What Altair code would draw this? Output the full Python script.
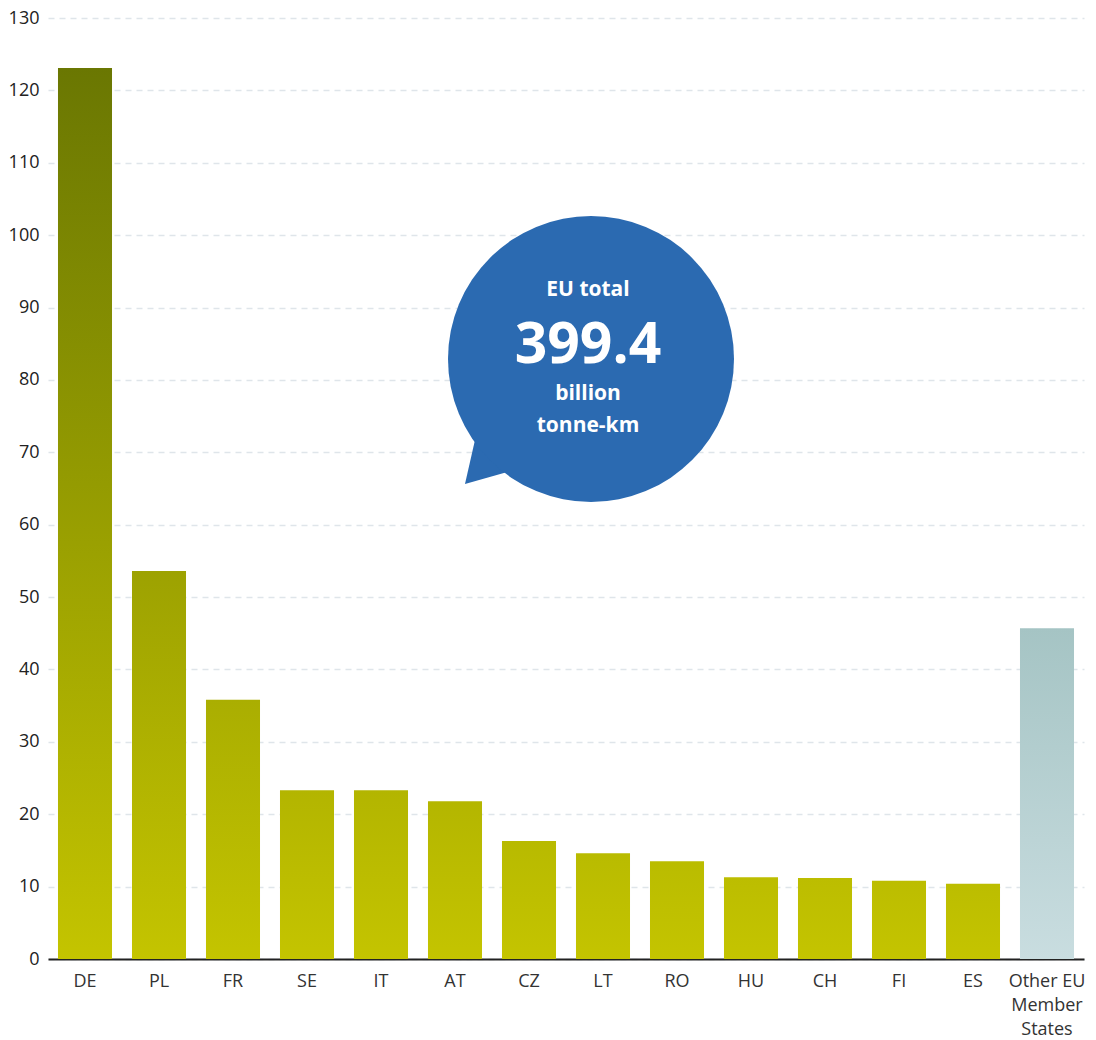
import altair as alt
import pandas as pd

# ---- data ----
countries = ["DE", "PL", "FR", "SE", "IT", "AT", "CZ", "LT", "RO", "HU", "CH", "FI", "ES",
             "Other EU|Member|States"]
values = [123.1, 53.6, 35.8, 23.3, 23.3, 21.8, 16.3, 14.6, 13.5, 11.3, 11.2, 10.8, 10.4, 45.7]
groups = ["country"] * 13 + ["other"]
y_ticks = list(range(0, 131, 10))

bubble_title = "EU total"
bubble_value = "399.4"
bubble_unit = ["billion", "tonne-km"]

df = pd.DataFrame({"country": countries, "value": values, "group": groups})

# ---- styling ----
FONT = "Open Sans"
C_BOTTOM = (196, 196, 0)
C_TOP = (106, 119, 2)
O_TOP = "#a5c4c4"
O_BOTTOM = "#c9dde0"
VMAX = max(values[:13])
BLUE = "#2b6ab1"


def lerp(c0, c1, t):
    return "#%02x%02x%02x" % tuple(round(a + (b - a) * t) for a, b in zip(c0, c1))


x_enc = alt.X(
    "country:N",
    sort=countries,
    scale=alt.Scale(domain=countries, paddingInner=0.27, paddingOuter=0.135),
    axis=alt.Axis(
        title=None, labelAngle=0, labelFont=FONT, labelFontSize=18, labelColor="#333333",
        labelPadding=13, labelLineHeight=24, labelBaseline="top",
        labelExpr="split(datum.label, '|')",
        domainColor="#222222", domainWidth=2, ticks=False, grid=False,
    ),
)
y_enc = alt.Y(
    "value:Q",
    scale=alt.Scale(domain=[0, 130], nice=False),
    axis=alt.Axis(
        title=None, values=y_ticks, labelFont=FONT, labelFontSize=18, labelColor="#222222",
        labelPadding=9, ticks=False, domain=False, minExtent=40, maxExtent=40,
        grid=True, gridColor="#dfe5ea", gridDash=[6, 5], gridWidth=1.3,
    ),
)

layers = []
for c, v, g in zip(countries, values, groups):
    if g == "other":
        top, bottom = O_TOP, O_BOTTOM
    else:
        top, bottom = lerp(C_BOTTOM, C_TOP, v / VMAX), lerp(C_BOTTOM, C_BOTTOM, 0)
    grad = {
        "gradient": "linear", "x1": 0, "y1": 0, "x2": 0, "y2": 1,
        "stops": [{"offset": 0, "color": top}, {"offset": 1, "color": bottom}],
    }
    layers.append(
        alt.Chart(df).transform_filter(alt.datum.country == c)
        .mark_bar(color=grad)
        .encode(x=x_enc, y=y_enc)
    )

one = pd.DataFrame({"k": [0]})
bubble = alt.Chart(one).mark_point(
    shape="circle", filled=True, size=286 * 286, color=BLUE, opacity=1, strokeWidth=0
).encode(x=alt.value(543), y=alt.value(341))
tail = alt.Chart(one).mark_point(
    shape="M -0.8,0.733 L -0.467,-0.733 L 0.667,-0.733 L 0.833,0.267 Z",
    filled=True, size=3600, color=BLUE, opacity=1, strokeWidth=0,
).encode(x=alt.value(441), y=alt.value(444))

t_title = alt.Chart(pd.DataFrame({"t": [bubble_title]})).mark_text(
    font=FONT, fontSize=21, fontWeight="bold", color="white", baseline="middle"
).encode(x=alt.value(540), y=alt.value(272), text="t:N")
t_value = alt.Chart(pd.DataFrame({"t": [bubble_value]})).mark_text(
    font=FONT, fontSize=57, fontWeight="bold", color="white", baseline="middle"
).encode(x=alt.value(540), y=alt.value(328), text="t:N")
t_unit1 = alt.Chart(pd.DataFrame({"t": [bubble_unit[0]]})).mark_text(
    font=FONT, fontSize=21, fontWeight="bold", color="white", baseline="middle"
).encode(x=alt.value(540), y=alt.value(376), text="t:N")
t_unit2 = alt.Chart(pd.DataFrame({"t": [bubble_unit[1]]})).mark_text(
    font=FONT, fontSize=21, fontWeight="bold", color="white", baseline="middle"
).encode(x=alt.value(540), y=alt.value(408), text="t:N")

chart = alt.layer(*layers, tail, bubble, t_title, t_value, t_unit1, t_unit2).properties(
    width=1036, height=941, padding={"top": 1, "left": 0, "right": 0, "bottom": 0}
).configure(background="white").configure_view(strokeWidth=0, stroke="transparent")

chart.save("out.html", embed_options={"renderer": "svg", "actions": False})
